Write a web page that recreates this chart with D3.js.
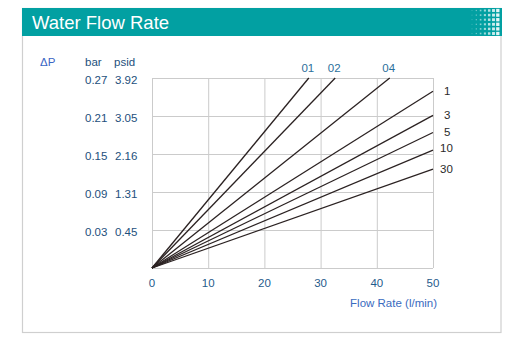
<!DOCTYPE html>
<html>
<head>
<meta charset="utf-8">
<script src="https://cdn.jsdelivr.net/npm/d3@7"></script>
<style>
  html, body { margin: 0; padding: 0; background: #fff; }
  svg { display: block; font-family: "Liberation Sans", Arial, Helvetica, sans-serif; }
</style>
</head>
<body>
<svg id="chart" width="509" height="348"></svg>
<script>
// Pressure-drop curves (ΔP vs flow) for each filter grade
const grades    = ["01", "02", "04", "1", "3", "5", "10", "30"];
const endFlow   = [27.9, 32.6, 42.3, 50, 50, 50, 50, 50];          // l/min
const endDrop   = [0.27, 0.27, 0.27, 0.249, 0.211, 0.184, 0.156, 0.126]; // bar
const topLabeled = ["01", "02", "04"];

// Axis ticks
const flowTicks = [0, 10, 20, 30, 40, 50];
const barTicks  = [0.27, 0.21, 0.15, 0.09, 0.03];
const psidTicks = ["3.92", "3.05", "2.16", "1.31", "0.45"];

const svg = d3.select("#chart");

// Panel frame
svg.append("rect")
  .attr("x", 22.5).attr("y", 8.5).attr("width", 478.5).attr("height", 324)
  .attr("fill", "#fff").attr("stroke", "#cfcfcf").attr("stroke-width", 1.2);

// Header band
svg.append("rect")
  .attr("x", 22).attr("y", 8).attr("width", 480).attr("height", 28)
  .attr("fill", "#02a0a2");

// Dot texture at the right end of the header
const dotCols = d3.range(7), dotRows = d3.range(6);
const hdr = svg.append("g");
dotCols.forEach(c => {
  dotRows.forEach(r => {
    const s = 0.8 + c * 0.42;
    hdr.append("rect")
      .attr("x", 472 + c * 4.3 - s / 2)
      .attr("y", 10.5 + r * 4.6 - s / 2)
      .attr("width", s).attr("height", s)
      .attr("fill", "#ffffff")
      .attr("opacity", 0.35 + c * 0.09);
  });
});

svg.append("text")
  .attr("x", 32).attr("y", 28.5)
  .attr("fill", "#fff")
  .attr("font-size", 18.5)
  .text("Water Flow Rate");

// Scales
const x = d3.scaleLinear().domain([0, 50]).range([152, 433]);
const y = d3.scaleLinear().domain([0, 0.03, 0.27]).range([268, 230, 78]);

const plot = svg.append("g");

// Grid
plot.selectAll(".vg").data(flowTicks).enter().append("line")
  .attr("x1", d => x(d) + 0.5).attr("x2", d => x(d) + 0.5)
  .attr("y1", y(0.27)).attr("y2", y(0))
  .attr("stroke", "#cbcbcb").attr("stroke-width", 1);
plot.selectAll(".hg").data(barTicks.concat([0])).enter().append("line")
  .attr("x1", x(0)).attr("x2", x(50))
  .attr("y1", d => y(d) + 0.5).attr("y2", d => y(d) + 0.5)
  .attr("stroke", "#cbcbcb").attr("stroke-width", 1);

// Curves
const line = d3.line().x(d => x(d[0])).y(d => y(d[1]));
grades.forEach((g, i) => {
  plot.append("path")
    .attr("d", line([[0, 0], [endFlow[i], endDrop[i]]]))
    .attr("fill", "none")
    .attr("stroke", "#2b2222")
    .attr("stroke-width", 1.3);
});

// Grade labels
grades.forEach((g, i) => {
  if (topLabeled.includes(g)) {
    svg.append("text")
      .attr("x", x(endFlow[i]) - 1).attr("y", 72)
      .attr("text-anchor", "middle")
      .attr("font-size", 11.5).attr("fill", "#2b6f9c")
      .text(g);
  } else {
    svg.append("text")
      .attr("x", g.length > 1 ? 440 : 444).attr("y", y(endDrop[i]) + 4 - (g === "10" ? 2 : 0))
      .attr("font-size", 11.5).attr("fill", "#2a2a2a")
      .text(g);
  }
});

// X axis labels
svg.selectAll(".xt").data(flowTicks).enter().append("text")
  .attr("x", d => x(d)).attr("y", 287)
  .attr("text-anchor", "middle")
  .attr("font-size", 11.5).attr("fill", "#1f5b8c")
  .text(d => d);

svg.append("text")
  .attr("x", 437).attr("y", 307)
  .attr("text-anchor", "end")
  .attr("font-size", 11.5).attr("fill", "#3a6bc0")
  .text("Flow Rate (l/min)");

// Y axis labels: bar and psid columns
svg.append("text").attr("x", 40).attr("y", 66)
  .attr("font-size", 11.5).attr("fill", "#3a66c4").text("ΔP");
svg.append("text").attr("x", 85).attr("y", 66)
  .attr("font-size", 11.5).attr("fill", "#1d4f7c").text("bar");
svg.append("text").attr("x", 114).attr("y", 66)
  .attr("font-size", 11.5).attr("fill", "#1d4f7c").text("psid");

svg.selectAll(".yb").data(barTicks).enter().append("text")
  .attr("x", 85).attr("y", d => y(d) + 6)
  .attr("font-size", 11.5).attr("fill", "#1d4f7c")
  .text(d => d.toFixed(2));
svg.selectAll(".yp").data(barTicks).enter().append("text")
  .attr("x", 115).attr("y", d => y(d) + 6)
  .attr("font-size", 11.5).attr("fill", "#1d4f7c")
  .text((d, i) => psidTicks[i]);
</script>
</body>
</html>
